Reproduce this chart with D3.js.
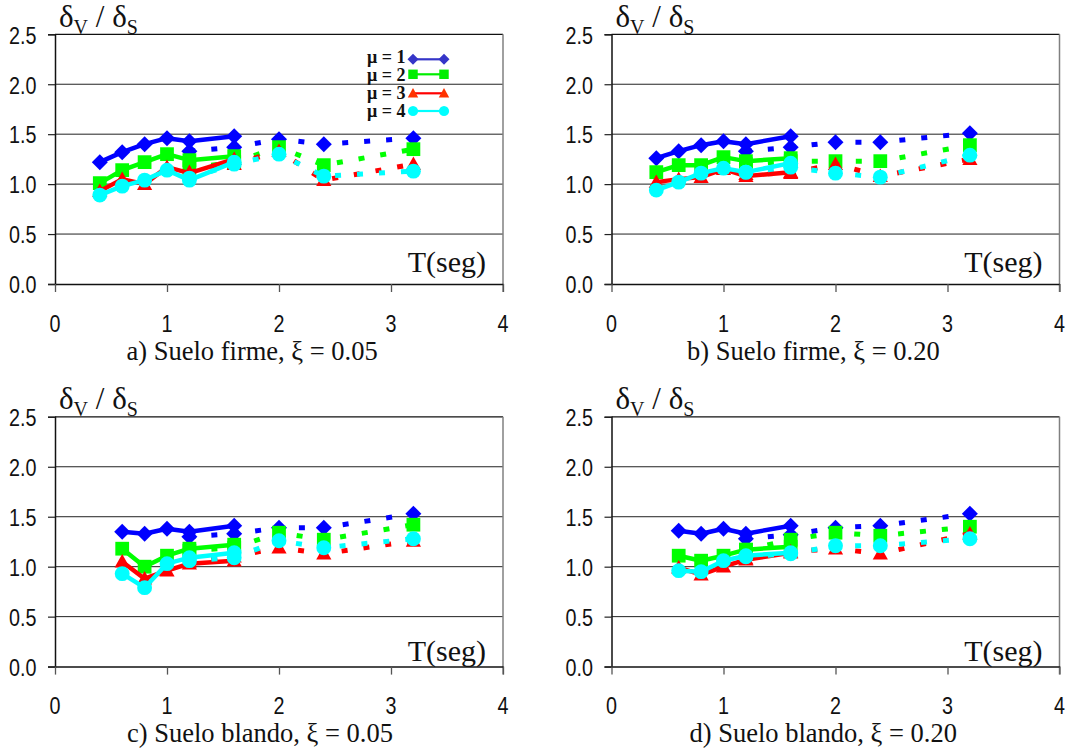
<!DOCTYPE html>
<html>
<head>
<meta charset="utf-8">
<script src="https://cdn.jsdelivr.net/npm/d3@7/dist/d3.min.js"></script>
<style>
  html, body { margin: 0; padding: 0; background: #fff; }
  svg { display: block; }
</style>
</head>
<body>
<svg id="chart" width="1073" height="755"></svg>
<script>
// Periods T (s) at which each ratio was computed
const tSolidFirme  = [0.4, 0.6, 0.8, 1.0, 1.2, 1.6];
const tSolidBlando = [0.6, 0.8, 1.0, 1.2, 1.6];
const tDotted      = [1.2, 1.6, 2.0, 2.4, 3.2];

const muLabels     = ["μ = 1", "μ = 2", "μ = 3", "μ = 4"];
const xTickValues  = [0, 1, 2, 3, 4];
const xTickLabels  = ["0", "1", "2", "3", "4"];
const yTickValues  = [0, 0.5, 1.0, 1.5, 2.0, 2.5];
const yTickLabels  = ["0.0", "0.5", "1.0", "1.5", "2.0", "2.5"];
const gridValues   = [0.5, 1.0, 1.5, 2.0];
const panelTitles  = [
  "a) Suelo firme, ξ = 0.05",
  "b) Suelo firme, ξ = 0.20",
  "c) Suelo blando, ξ = 0.05",
  "d) Suelo blando, ξ = 0.20"
];

// δv/δs, one row per μ (1..4)
const firme005Solid = [
  [1.22, 1.32, 1.40, 1.46, 1.43, 1.48],
  [1.01, 1.14, 1.22, 1.30, 1.24, 1.28],
  [0.93, 1.05, 1.00, 1.17, 1.11, 1.25],
  [0.89, 0.98, 1.04, 1.14, 1.04, 1.22]
];
const firme005Dotted = [
  [1.33, 1.37, 1.45, 1.40, 1.46],
  [1.16, 1.22, 1.37, 1.19, 1.35],
  [1.12, 1.20, 1.33, 1.04, 1.20],
  [1.06, 1.20, 1.30, 1.08, 1.13]
];
const firme020Solid = [
  [1.26, 1.33, 1.39, 1.43, 1.40, 1.48],
  [1.12, 1.19, 1.19, 1.27, 1.23, 1.26],
  [1.02, 1.05, 1.07, 1.15, 1.08, 1.12],
  [0.94, 1.02, 1.11, 1.16, 1.12, 1.21]
];
const firme020Dotted = [
  [1.33, 1.37, 1.42, 1.42, 1.51],
  [1.20, 1.23, 1.23, 1.23, 1.39],
  [1.10, 1.11, 1.20, 1.08, 1.25],
  [1.12, 1.17, 1.11, 1.07, 1.29]
];
const blando005Solid = [
  [1.35, 1.33, 1.38, 1.35, 1.41],
  [1.18, 1.00, 1.11, 1.18, 1.22],
  [1.05, 0.88, 0.96, 1.03, 1.06],
  [0.93, 0.79, 1.03, 1.09, 1.14]
];
const blando005Dotted = [
  [1.30, 1.33, 1.39, 1.39, 1.53],
  [1.16, 1.19, 1.34, 1.27, 1.42],
  [1.05, 1.10, 1.19, 1.13, 1.26],
  [1.06, 1.09, 1.26, 1.19, 1.28]
];
const blando020Solid = [
  [1.36, 1.33, 1.38, 1.33, 1.41],
  [1.11, 1.06, 1.11, 1.17, 1.20],
  [0.99, 0.92, 1.00, 1.07, 1.14],
  [0.96, 0.95, 1.06, 1.11, 1.14]
];
const blando020Dotted = [
  [1.28, 1.32, 1.39, 1.41, 1.53],
  [1.17, 1.27, 1.34, 1.31, 1.40],
  [1.08, 1.15, 1.18, 1.13, 1.33],
  [1.10, 1.13, 1.21, 1.21, 1.28]
];

const panels = [
  { title: panelTitles[0], tSolid: tSolidFirme,  solid: firme005Solid,  dotted: firme005Dotted,  legend: true  },
  { title: panelTitles[1], tSolid: tSolidFirme,  solid: firme020Solid,  dotted: firme020Dotted,  legend: false },
  { title: panelTitles[2], tSolid: tSolidBlando, solid: blando005Solid, dotted: blando005Dotted, legend: false },
  { title: panelTitles[3], tSolid: tSolidBlando, solid: blando020Solid, dotted: blando020Dotted, legend: false }
];

// Plot frames (pixels)
const frames = [
  { left: 55,    top: 34.3,  width: 448, height: 249.7, titleX: 126.5, tsegUp: 12 },
  { left: 611.5, top: 34.3,  width: 448, height: 249.7, titleX: 687,   tsegUp: 12 },
  { left: 55,    top: 416.8, width: 448, height: 249.8, titleX: 127,   tsegUp: 6  },
  { left: 611.5, top: 416.8, width: 448, height: 249.8, titleX: 689.5, tsegUp: 6  }
];

const seriesColors = ["#0000ff", "#00ff00", "#ff0000", "#00ffff"];
const legendLineColors = ["#3535c8", "#00ee00", "#ff0000", "#00ffff"];
const legendMarkColors = ["#3535c8", "#00ee00", "#ff3300", "#00ffff"];
const markerShapes = ["diamond", "square", "triangle", "circle"];

const SANS = "'Liberation Sans', Arial, Helvetica, sans-serif";
const SERIF = "'Liberation Serif', 'Times New Roman', Times, serif";

function markerPath(shape, s) {
  switch (shape) {
    case "diamond":  return `M0,${-s}L${s},0L0,${s}L${-s},0Z`;
    case "square":   { const h = s * 0.86; return `M${-h},${-h}H${h}V${h}H${-h}Z`; }
    case "triangle": { const h = s * 0.95; return `M0,${-h}L${h},${h * 0.78}L${-h},${h * 0.78}Z`; }
    default:         return d3.symbol(d3.symbolCircle, Math.PI * (s * 0.93) * (s * 0.93))();
  }
}

const svg = d3.select("#chart");

panels.forEach((p, pi) => {
  const f = frames[pi];
  const right = f.left + f.width;
  const bottom = f.top + f.height;
  const x = d3.scaleLinear().domain([0, 4]).range([f.left, right]);
  const y = d3.scaleLinear().domain([0, 2.5]).range([bottom, f.top]);
  const g = svg.append("g");

  // horizontal gridlines
  g.selectAll("line.grid").data(gridValues).join("line")
    .attr("x1", f.left).attr("x2", right)
    .attr("y1", d => y(d)).attr("y2", d => y(d))
    .attr("stroke", "#222").attr("stroke-width", 1);

  // top and right borders
  g.append("line").attr("x1", f.left).attr("x2", right)
    .attr("y1", y(2.5)).attr("y2", y(2.5))
    .attr("stroke", "#111").attr("stroke-width", 1.3);
  g.append("line").attr("x1", right).attr("x2", right)
    .attr("y1", f.top).attr("y2", bottom + 8)
    .attr("stroke", "#808080").attr("stroke-width", 1.5);

  // axes (tick marks only, labels drawn separately)
  const yAxis = g.append("g").attr("transform", `translate(${f.left},0)`)
    .call(d3.axisLeft(y).tickValues(yTickValues).tickSize(7).tickFormat(""));
  yAxis.select(".domain").attr("stroke", "#111").attr("stroke-width", 1.5);
  yAxis.selectAll(".tick line").attr("stroke", "#222").attr("stroke-width", 1.2);

  const xAxis = g.append("g").attr("transform", `translate(0,${bottom})`)
    .call(d3.axisBottom(x).tickValues(xTickValues).tickSize(8).tickSizeOuter(0).tickFormat(""));
  xAxis.select(".domain").attr("stroke", "#111").attr("stroke-width", 1.5);
  xAxis.selectAll(".tick line").attr("stroke", "#555").attr("stroke-width", 1.3);

  // tick labels (narrow sans)
  g.selectAll("text.ylab").data(yTickValues).join("text")
    .attr("transform", d => `translate(${f.left - 18.5},${y(d) + 9.3}) scale(0.84,1)`)
    .attr("text-anchor", "end")
    .attr("font-family", SANS).attr("font-size", 23.5).attr("fill", "#111")
    .text((d, i) => yTickLabels[i]);
  g.selectAll("text.xlab").data(xTickValues).join("text")
    .attr("transform", d => `translate(${x(d)},${bottom + 47.5}) scale(0.84,1)`)
    .attr("text-anchor", "middle")
    .attr("font-family", SANS).attr("font-size", 23.5).attr("fill", "#111")
    .text((d, i) => xTickLabels[i]);

  // y-axis title δv / δs
  const yt = g.append("text")
    .attr("x", f.left + 4).attr("y", f.top - 7.5)
    .attr("font-family", SERIF).attr("font-size", 31).attr("fill", "#111");
  yt.append("tspan").text("δ");
  yt.append("tspan").attr("font-size", 20).attr("dy", 7).text("V");
  yt.append("tspan").attr("dy", -7).text(" / δ");
  yt.append("tspan").attr("font-size", 20).attr("dy", 7).text("S");

  // x-axis title inside the plot
  g.append("text")
    .attr("x", right - 17).attr("y", bottom - f.tsegUp)
    .attr("text-anchor", "end")
    .attr("font-family", SERIF).attr("font-size", 30).attr("fill", "#111")
    .text("T(seg)");

  // panel caption
  g.append("text")
    .attr("x", f.titleX).attr("y", bottom + 75.5)
    .attr("font-family", SERIF).attr("font-size", 26.5).attr("fill", "#111")
    .text(p.title);

  // series: solid branch and dotted branch for each μ
  const line = d3.line().x(d => x(d[0])).y(d => y(d[1]));
  for (let k = 0; k < 4; k++) {
    const solidPts = p.tSolid.map((t, i) => [t, p.solid[k][i]]);
    const dottedPts = tDotted.map((t, i) => [t, p.dotted[k][i]]);

    g.append("path").datum(solidPts).attr("d", line)
      .attr("fill", "none").attr("stroke", seriesColors[k])
      .attr("stroke-width", 4.5).attr("stroke-linejoin", "round");
    g.selectAll(null).data(solidPts).join("path")
      .attr("transform", d => `translate(${x(d[0])},${y(d[1])})`)
      .attr("d", markerPath(markerShapes[k], 8))
      .attr("fill", seriesColors[k]);

    g.append("path").datum(dottedPts).attr("d", line)
      .attr("fill", "none").attr("stroke", seriesColors[k])
      .attr("stroke-width", 5).attr("stroke-dasharray", "6,16");
    g.selectAll(null).data(dottedPts).join("path")
      .attr("transform", d => `translate(${x(d[0])},${y(d[1])})`)
      .attr("d", markerPath(markerShapes[k], 8))
      .attr("fill", seriesColors[k]);
  }

  // legend
  if (p.legend) {
    const rowY = [59.3, 74.3, 93.3, 111];
    const textY = [62.5, 80.5, 99, 117];
    const lg = g.append("g");
    muLabels.forEach((lab, k) => {
      lg.append("text")
        .attr("x", 405.5).attr("y", textY[k])
        .attr("text-anchor", "end")
        .attr("font-family", SERIF).attr("font-weight", "bold")
        .attr("font-size", 18).attr("fill", "#111")
        .text(lab);
      lg.append("line")
        .attr("x1", 413).attr("x2", 444).attr("y1", rowY[k]).attr("y2", rowY[k])
        .attr("stroke", legendLineColors[k]).attr("stroke-width", 2.2);
      [413, 444].forEach(cx => {
        lg.append("path")
          .attr("transform", `translate(${cx},${rowY[k]})`)
          .attr("d", markerPath(markerShapes[k], 5.5))
          .attr("fill", legendMarkColors[k]);
      });
    });
  }
});
</script>
</body>
</html>
